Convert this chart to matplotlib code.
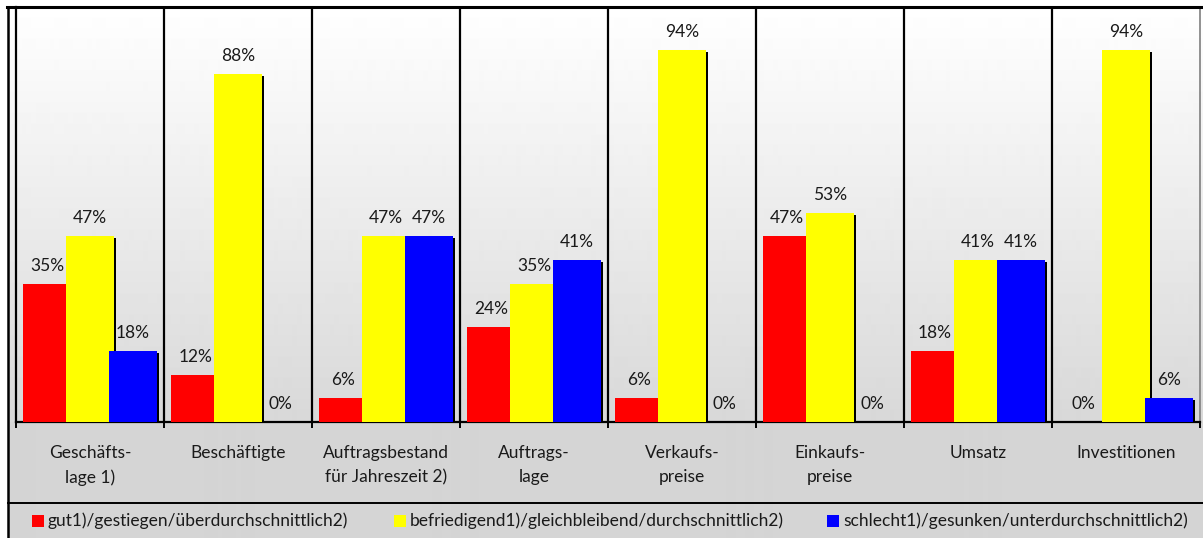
import numpy as np
import matplotlib
matplotlib.use("Agg")
import matplotlib.pyplot as plt
from matplotlib.patches import Rectangle
from matplotlib.lines import Line2D

plt.rcParams['font.family'] = ['Lato', 'DejaVu Sans']

categories = ["Geschäfts-\nlage 1)", "Beschäftigte", "Auftragsbestand\nfür Jahreszeit 2)",
              "Auftrags-\nlage", "Verkaufs-\npreise", "Einkaufs-\npreise", "Umsatz", "Investitionen"]
gut = [35, 12, 6, 24, 6, 47, 18, 0]
befriedigend = [47, 88, 47, 35, 94, 53, 41, 94]
schlecht = [18, 0, 47, 41, 0, 0, 41, 6]
series_labels = ["gut1)/gestiegen/überdurchschnittlich2)",
                 "befriedigend1)/gleichbleibend/durchschnittlich2)",
                 "schlecht1)/gesunken/unterdurchschnittlich2)"]
colors = ["#ff0000", "#ffff00", "#0000ff"]

W, H = 1203, 538
fig = plt.figure(figsize=(W / 100, H / 100), dpi=100)
fig.patch.set_facecolor("white")

# background gradient for framed area
rows = H - 7
ys = np.arange(rows) + 7
grad = np.where(ys < 422, 255 - (255 - 216) * (ys - 7) / (422 - 7), 213.0)
bg = fig.add_axes([8 / W, 0, 1 - 8 / W, (H - 7) / H], zorder=0)
bg.imshow(grad[:, None], cmap="gray", vmin=0, vmax=255, aspect="auto",
          extent=[0, 1, 0, 1], origin="upper", interpolation="bilinear")
bg.axis("off")

ax = fig.add_axes([16 / W, (H - 422) / H, (1200 - 16) / W, (422 - 7) / H], zorder=1)
ax.patch.set_alpha(0)

n = len(categories)
x = np.arange(n)
step = 0.29
width = 0.324
dx = 2 / 148
dy = 2 / 3.957
txtc = "#1a1a1a"
fs = 12.5
for k, (vals, col) in enumerate(zip([gut, befriedigend, schlecht], colors)):
    pos = x + (k - 1) * step
    vals = np.array(vals, dtype=float)
    sh = np.where(vals > 0, vals - dy, 0)
    ax.bar(pos + dx, sh, width=width, color="black", linewidth=0, zorder=2 + 2 * k)
    ax.bar(pos, vals, width=width, color=col, linewidth=0, zorder=3 + 2 * k)
    for p, v in zip(pos, vals):
        ax.annotate(f"{int(v)}%", (p, v), xytext=(0, 10), textcoords="offset pixels",
                    ha="center", va="bottom", fontsize=fs, color=txtc, zorder=10)

ax.set_xlim(-0.5, n - 0.5)
ax.set_ylim(0, 105)
ax.vlines(np.arange(n - 1) + 0.5, 0, 105, color="black", lw=1.6, zorder=8)
ax.spines["top"].set_visible(False)
ax.spines["left"].set_linewidth(1.6)
ax.spines["bottom"].set_linewidth(1.6)
ax.spines["right"].set_color("#7f7f7f")
ax.spines["right"].set_linewidth(1.2)
ax.set_yticks([])
ax.set_xticks(np.arange(n + 1) - 0.5)
ax.tick_params(axis="x", direction="out", length=4.5, width=1.4, labelbottom=False)

for i, lab in enumerate(categories):
    fig.text((16 + 148 * i + 74) / W, 1 - 445 / H, lab, ha="center", va="top",
             fontsize=fs, color=txtc, linespacing=1.62)

# frame lines
fig.add_artist(Line2D([8 / W, 8 / W], [0, 1 - 7 / H], color="black", lw=1.8))
fig.add_artist(Line2D([7 / W, 1], [1 - 7 / H, 1 - 7 / H], color="black", lw=2.2))
fig.add_artist(Line2D([8 / W, 1], [1 - 503 / H, 1 - 503 / H], color="black", lw=1.4))

# legend
sq_x = [32, 394, 827]
for sx, lab, col in zip(sq_x, series_labels, colors):
    fig.add_artist(Rectangle((sx / W, 1 - 527 / H), 12 / W, 12 / H, transform=fig.transFigure,
                             facecolor=col, edgecolor="none"))
    fig.text((sx + 16) / W, 1 - 521 / H, lab, ha="left", va="center", fontsize=fs, color=txtc)

fig.savefig("out.png", dpi=100)
